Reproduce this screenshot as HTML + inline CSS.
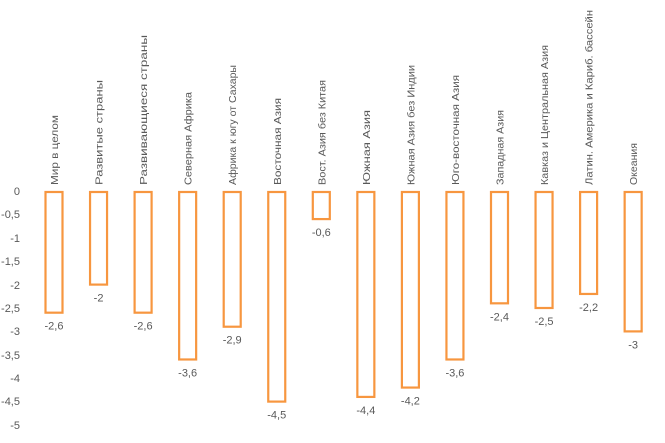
<!DOCTYPE html>
<html><head><meta charset="utf-8"><style>
body{margin:0;background:#fff}
svg{display:block;font-family:"Liberation Sans",sans-serif;fill:#595959}
</style></head><body>
<svg width="665" height="443" xmlns="http://www.w3.org/2000/svg">
<g font-size="11" text-anchor="end">
<text x="20" y="195">0</text>
<text x="20" y="218">-0,5</text>
<text x="20" y="242">-1</text>
<text x="20" y="265">-1,5</text>
<text x="20" y="289">-2</text>
<text x="20" y="312">-2,5</text>
<text x="20" y="335">-3</text>
<text x="20" y="359">-3,5</text>
<text x="20" y="382">-4</text>
<text x="20" y="405">-4,5</text>
<text x="20" y="429">-5</text>
</g>
<g id="bars" fill="none" stroke="#F7963F" stroke-width="2.2"></g>
<g id="vals" font-size="11" text-anchor="middle"></g>
<g id="labs" font-size="10.5"></g>
<script>
var d=[["Мир в целом",-2.6,115],["Развитые страны",-2,80],["Развивающиеся страны",-2.6,35],["Северная Африка",-3.6,92],["Африка к югу от Сахары",-2.9,65],["Восточная Азия",-4.5,98],["Вост. Азия без Китая",-0.6,80],["Южная Азия",-4.4,110],["Южная Азия без Индии",-4.2,65],["Юго-восточная Азия",-3.6,75],["Западная Азия",-2.4,110],["Кавказ и Центральная Азия",-2.5,45],["Латин. Америка и Кариб. бассейн",-2.2,10],["Океания",-3,143]];
var ns="http://www.w3.org/2000/svg",b=document.getElementById("bars"),v=document.getElementById("vals"),l=document.getElementById("labs");
d.forEach(function(e,i){var cx=54+i*44.55,h=-e[1]*46.8;
var r=document.createElementNS(ns,"rect");r.setAttribute("x",cx-8.5);r.setAttribute("y",192);r.setAttribute("width",17);r.setAttribute("height",h-1);b.appendChild(r);
var t=document.createElementNS(ns,"text");t.setAttribute("x",cx);t.setAttribute("y",192+h+16);t.textContent=String(e[1]).replace(".",",");v.appendChild(t);
var s=document.createElementNS(ns,"text");s.setAttribute("transform","translate("+(cx+4)+",185) rotate(-90)");s.setAttribute("textLength",185-e[2]);s.setAttribute("lengthAdjust","spacingAndGlyphs");s.textContent=e[0];l.appendChild(s);});
</script>
</svg>
</body></html>
